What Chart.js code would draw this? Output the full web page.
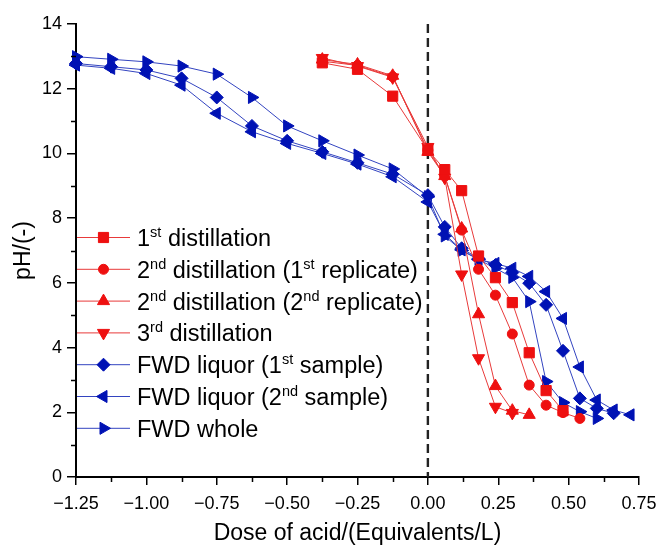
<!DOCTYPE html>
<html>
<head>
<meta charset="utf-8">
<script src="https://cdn.jsdelivr.net/npm/chart.js@4"></script>
<style>
  body { margin: 0; background: #fff; }
  #wrap { width: 659px; height: 545px; }
</style>
</head>
<body>
<div id="wrap"><canvas id="graphique-ph" width="659" height="545"></canvas></div>
<script>
// Doses (Equivalents/L)
const redDose = [-0.375, -0.25, -0.125, 0, 0.06, 0.12, 0.18, 0.24, 0.30, 0.36, 0.42, 0.48, 0.54];
const blueDose = [-1.25, -1.125, -1, -0.875, -0.75, -0.625, -0.5, -0.375, -0.25, -0.125, 0,
                  0.06, 0.12, 0.18, 0.24, 0.30, 0.36, 0.42, 0.48, 0.54, 0.60, 0.66, 0.72];

// pH
const phDist1 = [12.8, 12.6, 11.77, 10.1, 9.5, 8.85, 6.83, 6.16, 5.39, 3.84, 2.67, 2.05];
const phDist2Rep1 = [12.85, 12.72, 12.37, 10.1, 9.3, 7.63, 6.42, 5.62, 4.42, 2.84, 2.22, 1.99, 1.81];
const phDist2Rep2 = [12.9, 12.75, 12.4, 10.05, 9.3, 7.68, 5.03, 2.81, 2.05, 1.92];
const phDist3 = [12.95, 12.7, 12.35, 10.2, 9.25, 6.26, 3.67, 2.17, 1.98];
const phLiquor1 = [12.78, 12.68, 12.58, 12.32, 11.73, 10.85, 10.39, 10.05, 9.71, 9.36, 8.71,
                   7.73, 7.07, 6.75, 6.55, 6.32, 5.99, 5.32, 3.90, 2.43, 2.12, 1.97];
const phLiquor2 = [12.73, 12.63, 12.47, 12.11, 11.24, 10.67, 10.31, 10.0, 9.67, 9.28, 8.5,
                   7.5, 7.02, 6.72, 6.6, 6.45, 6.2, 5.73, 4.90, 3.40, 2.38, 2.07, 1.92];
const phWhole = [12.99, 12.91, 12.83, 12.70, 12.45, 11.73, 10.85, 10.39, 9.95, 9.52, 8.66,
                 7.45, 7.0, 6.72, 6.45, 6.17, 5.42, 2.95, 2.30, 2.02, 1.81];

const legendLabels = [
    "1^st distillation",
    "2^nd distillation (1^st replicate)",
    "2^nd distillation (2^nd replicate)",
    "3^rd distillation",
    "FWD liquor (1^st sample)",
    "FWD liquor (2^nd sample)",
    "FWD whole"
];

const xTicks = [-1.25, -1, -0.75, -0.5, -0.25, 0, 0.25, 0.5, 0.75];
const yTicks = [0, 2, 4, 6, 8, 10, 12, 14];

const RED = "#ee1010", RED_LINE = "#e83a3a";
const BLUE = "#0012b4", BLUE_LINE = "#3344c0";
const FONT = "'Liberation Sans', Arial, sans-serif";

function points(xs, ys) {
    const pts = [];
    for (let i = 0; i < ys.length; i++) {
        pts.push({ x: xs[i], y: ys[i] });
    }
    return pts;
}

function serie(label, xs, ys, couleur, ligne, style, rayon, rotation) {
    return {
        label: label,
        data: points(xs, ys),
        showLine: true,
        borderColor: ligne,
        borderWidth: 1,
        pointStyle: style,
        pointRadius: rayon,
        pointRotation: rotation,
        pointBackgroundColor: couleur,
        pointBorderColor: couleur,
        pointBorderWidth: 1,
        clip: false
    };
}

const datasets = [
    serie(legendLabels[0], redDose, phDist1, RED, RED_LINE, "rect", 7.2, 0),
    serie(legendLabels[1], redDose, phDist2Rep1, RED, RED_LINE, "circle", 5, 0),
    serie(legendLabels[2], redDose, phDist2Rep2, RED, RED_LINE, "triangle", 7, 0),
    serie(legendLabels[3], redDose, phDist3, RED, RED_LINE, "triangle", 7, 180),
    serie(legendLabels[4], blueDose, phLiquor1, BLUE, BLUE_LINE, "rectRot", 6.5, 0),
    serie(legendLabels[5], blueDose, phLiquor2, BLUE, BLUE_LINE, "triangle", 7, -90),
    serie(legendLabels[6], blueDose, phWhole, BLUE, BLUE_LINE, "triangle", 7, 90)
];

// dashed line at zero dose
const ligneZero = {
    id: "ligneZero",
    beforeDatasetsDraw(chart) {
        const { ctx, chartArea, scales } = chart;
        const x0 = scales.x.getPixelForValue(0);
        ctx.save();
        ctx.strokeStyle = "#222";
        ctx.lineWidth = 2.4;
        ctx.setLineDash([9, 5]);
        ctx.beginPath();
        ctx.moveTo(x0, scales.y.getPixelForValue(14));
        ctx.lineTo(x0, chartArea.bottom);
        ctx.stroke();
        ctx.restore();
    }
};

// minor ticks between the labelled ones
const petitsTraits = {
    id: "petitsTraits",
    afterDraw(chart) {
        const { ctx, chartArea, scales } = chart;
        ctx.save();
        ctx.strokeStyle = "#000";
        ctx.lineWidth = 1.5;
        ctx.beginPath();
        for (let i = 0; i < xTicks.length - 1; i++) {
            const px = Math.round(scales.x.getPixelForValue((xTicks[i] + xTicks[i + 1]) / 2)) + 0.5;
            ctx.moveTo(px, chartArea.bottom);
            ctx.lineTo(px, chartArea.bottom + 5);
        }
        for (let i = 0; i < yTicks.length - 1; i++) {
            const py = Math.round(scales.y.getPixelForValue((yTicks[i] + yTicks[i + 1]) / 2)) + 0.5;
            ctx.moveTo(chartArea.left, py);
            ctx.lineTo(chartArea.left - 5, py);
        }
        ctx.stroke();
        ctx.restore();
    }
};

function texteExposant(ctx, texte, x, y) {
    const morceaux = texte.split(/\^(\w+)/);
    for (let i = 0; i < morceaux.length; i++) {
        if (i % 2 === 1) {
            ctx.font = "14.5px " + FONT;
            ctx.fillText(morceaux[i], x, y - 9);
        } else {
            ctx.font = "23.5px " + FONT;
            ctx.fillText(morceaux[i], x, y);
        }
        x += ctx.measureText(morceaux[i]).width;
    }
}

// legend drawn by hand for the superscripts
const legende = {
    id: "legende",
    afterDraw(chart) {
        const ctx = chart.ctx;
        ctx.save();
        for (let i = 0; i < datasets.length; i++) {
            const d = datasets[i];
            const y = 237.5 + i * 31.8;
            ctx.strokeStyle = d.borderColor;
            ctx.lineWidth = 1;
            ctx.beginPath();
            ctx.moveTo(77, y);
            ctx.lineTo(130, y);
            ctx.stroke();
            ctx.fillStyle = d.pointBackgroundColor;
            ctx.strokeStyle = d.pointBorderColor;
            Chart.helpers.drawPoint(ctx, {
                pointStyle: d.pointStyle,
                radius: d.pointRadius,
                rotation: d.pointRotation,
                borderWidth: 1
            }, 103.5, y);
            ctx.fillStyle = "#000";
            ctx.textBaseline = "alphabetic";
            texteExposant(ctx, d.label, 137, y + 8.5);
        }
        ctx.restore();
    }
};

const config = {
    type: "scatter",
    data: { datasets: datasets },
    options: {
        responsive: false,
        animation: false,
        layout: { padding: { top: 24, right: 20, left: 0, bottom: 0 } },
        plugins: {
            legend: { display: false },
            tooltip: { enabled: false }
        },
        scales: {
            x: {
                type: "linear",
                min: -1.25,
                max: 0.75,
                afterBuildTicks: scale => { scale.ticks = xTicks.map(v => ({ value: v })); },
                afterFit: scale => {
                    scale.height = 68;
                    scale.paddingLeft = 0;
                    scale.paddingRight = 0;
                },
                grid: { drawOnChartArea: false, drawTicks: true, tickLength: 8, color: "#000", lineWidth: 1.5 },
                border: { display: true, color: "#000", width: 2 },
                ticks: {
                    color: "#000",
                    font: { size: 18, family: FONT },
                    padding: 8,
                    maxRotation: 0,
                    callback: v => (v < 0 ? "\u2212" : "") + Math.abs(v).toFixed(2)
                },
                title: {
                    display: true,
                    text: "Dose of acid/(Equivalents/L)",
                    color: "#000",
                    font: { size: 23, family: FONT },
                    padding: { top: 0, bottom: -2 }
                }
            },
            y: {
                min: 0,
                max: 14,
                afterBuildTicks: scale => { scale.ticks = yTicks.map(v => ({ value: v })); },
                afterFit: scale => { scale.width = 76; },
                grid: { drawOnChartArea: false, drawTicks: true, tickLength: 9, color: "#000", lineWidth: 1.5 },
                border: { display: true, color: "#000", width: 2 },
                ticks: {
                    color: "#000",
                    font: { size: 18, family: FONT },
                    padding: 5
                },
                title: {
                    display: true,
                    text: "pH/(-)",
                    color: "#000",
                    font: { size: 23, family: FONT },
                    padding: { top: 10, bottom: 0 }
                }
            }
        }
    },
    plugins: [ligneZero, petitsTraits, legende]
};

const graphique = new Chart(document.querySelector("#graphique-ph"), config);
</script>
</body>
</html>
